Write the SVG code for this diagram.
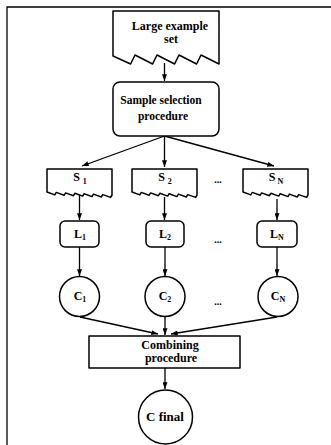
<svg xmlns="http://www.w3.org/2000/svg" width="331" height="445" viewBox="0 0 331 445">
<style>
.sh{fill:#fff;stroke:#000;stroke-width:1.5;stroke-linejoin:round}
.ln{fill:none;stroke:#000;stroke-width:1.3}
.t{font-family:"Liberation Serif","Times New Roman",serif;font-weight:bold;fill:#000;text-anchor:middle}
.sub{font-size:8px}
</style>
<defs>
<marker id="ah" viewBox="0 0 8 6" refX="8" refY="3" markerWidth="7" markerHeight="5" orient="auto" markerUnits="userSpaceOnUse">
<path d="M0,0 L8,3 L0,6 Z" fill="#000"/>
</marker>
<path id="sbox" d="M0,0 H65 V26 L63.6,28.4 L55.7,25.6 L54.3,28 L46.4,25.1 L45,27.6 L37.1,24.7 L35.7,27.1 L27.9,24.3 L26.4,26.7 L18.6,23.9 L17.1,26.3 L9.3,23.4 L7.8,25.9 L0,23 Z"/>
</defs>
<rect width="331" height="445" fill="#fff"/>
<g id="frame"><path class="ln" d="M7,445 V7 H331" stroke-width="1.5"/></g>

<g id="connectors">
<line class="ln" x1="164.5" y1="63" x2="164.5" y2="81" marker-end="url(#ah)"/>
<line class="ln" x1="164.5" y1="136" x2="82" y2="166" marker-end="url(#ah)"/>
<line class="ln" x1="164.5" y1="136" x2="164.5" y2="167" marker-end="url(#ah)"/>
<line class="ln" x1="164.5" y1="136" x2="274" y2="166" marker-end="url(#ah)"/>
<line class="ln" x1="79.5" y1="195" x2="79.5" y2="220" marker-end="url(#ah)"/>
<line class="ln" x1="164.5" y1="197" x2="164.5" y2="220" marker-end="url(#ah)"/>
<line class="ln" x1="277" y1="199" x2="277" y2="220" marker-end="url(#ah)"/>
<line class="ln" x1="79.5" y1="247" x2="79.5" y2="276" marker-end="url(#ah)"/>
<line class="ln" x1="165" y1="247" x2="165" y2="276" marker-end="url(#ah)"/>
<line class="ln" x1="277" y1="247" x2="277" y2="276" marker-end="url(#ah)"/>
<line class="ln" x1="80" y1="317" x2="158" y2="334" marker-end="url(#ah)"/>
<line class="ln" x1="165" y1="317" x2="165" y2="335" marker-end="url(#ah)"/>
<line class="ln" x1="277" y1="317" x2="171" y2="334" marker-end="url(#ah)"/>
<line class="ln" x1="165" y1="368" x2="165" y2="389" marker-end="url(#ah)"/>
</g>

<g id="large-set">
<path class="sh" d="M113,11 H219 V64 L201,55 L196.6,64 L179,55 L174.6,64 L157,55 L152.6,64 L135,55 L130.6,64 L113,56 Z"/>
<text class="t" x="170" y="30" font-size="12">Large example</text>
<text class="t" x="171" y="43" font-size="12">set</text>
</g>

<g id="sample-selection">
<rect class="sh" x="113" y="82" width="106" height="54" rx="7"/>
<text class="t" x="161" y="104" font-size="11.5">Sample selection</text>
<text class="t" x="163" y="120" font-size="11.5">procedure</text>
</g>

<g id="s1">
<use href="#sbox" class="sh" x="47" y="169"/>
<text class="t" x="80" y="181" font-size="12">S<tspan class="sub" dx="3" dy="3">1</tspan></text>
</g>
<g id="s2">
<use href="#sbox" class="sh" x="132" y="169"/>
<text class="t" x="165" y="181" font-size="12">S<tspan class="sub" dx="3" dy="3">2</tspan></text>
</g>
<g id="sn">
<use href="#sbox" class="sh" x="243" y="169"/>
<text class="t" x="276" y="181" font-size="12">S<tspan class="sub" dx="2" dy="3">N</tspan></text>
</g>

<g id="dots">
<text class="t" x="218" y="183" font-size="10">...</text>
<text class="t" x="218" y="243" font-size="10">...</text>
<text class="t" x="218" y="305" font-size="10">...</text>
</g>

<g id="l1">
<rect class="sh" x="60" y="221" width="39" height="26" rx="5"/>
<text class="t" x="80" y="238" font-size="12">L<tspan class="sub" dy="2">1</tspan></text>
</g>
<g id="l2">
<rect class="sh" x="146" y="221" width="38" height="26" rx="5"/>
<text class="t" x="165" y="238" font-size="12">L<tspan class="sub" dy="2">2</tspan></text>
</g>
<g id="ln">
<rect class="sh" x="257" y="221" width="40" height="26" rx="5"/>
<text class="t" x="277" y="238" font-size="12">L<tspan class="sub" dy="2">N</tspan></text>
</g>

<g id="c1">
<circle class="sh" cx="79.5" cy="296.5" r="20"/>
<text class="t" x="80" y="300" font-size="12">C<tspan class="sub" dy="2">1</tspan></text>
</g>
<g id="c2">
<circle class="sh" cx="165" cy="296.5" r="20"/>
<text class="t" x="165" y="300" font-size="12">C<tspan class="sub" dy="2">2</tspan></text>
</g>
<g id="cn">
<circle class="sh" cx="278" cy="296.5" r="20"/>
<text class="t" x="278" y="300" font-size="12">C<tspan class="sub" dy="2">N</tspan></text>
</g>

<g id="combining">
<rect class="sh" x="89" y="336" width="151" height="32"/>
<text class="t" x="170" y="349" font-size="12">Combining</text>
<text class="t" x="171" y="362" font-size="12">procedure</text>
</g>

<g id="c-final">
<circle class="sh" cx="165.5" cy="417" r="27"/>
<text class="t" x="165" y="421" font-size="13">C final</text>
</g>
</svg>
